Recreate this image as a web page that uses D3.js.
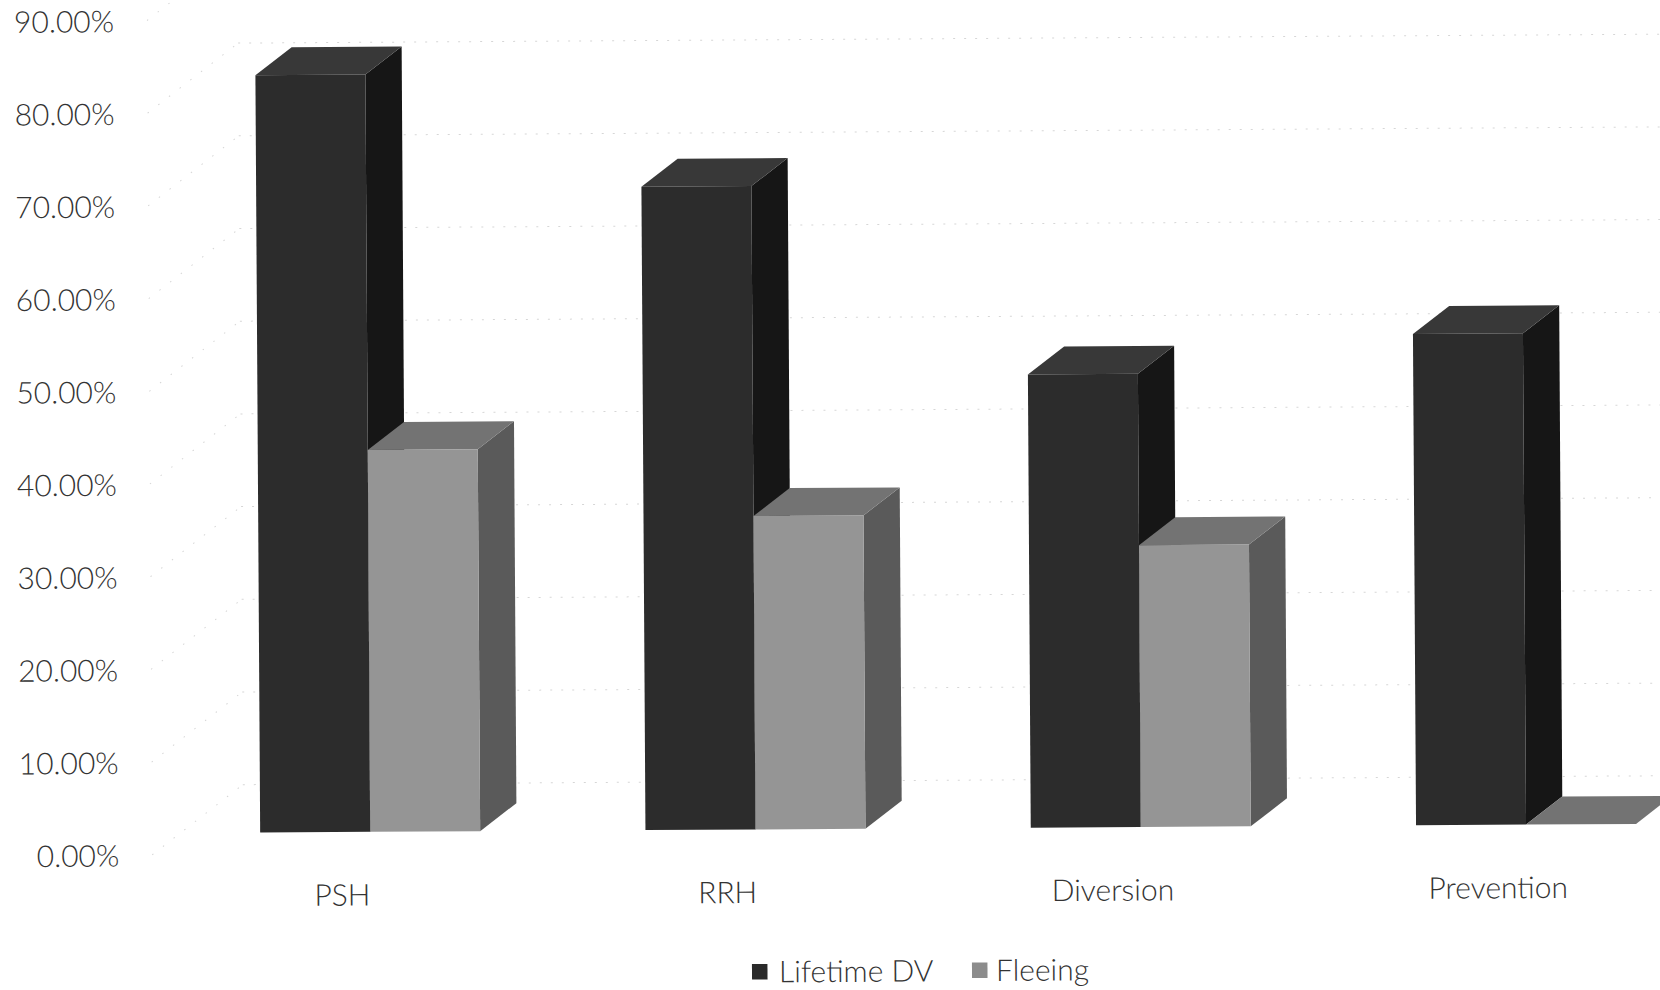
<!DOCTYPE html>
<html>
<head>
<meta charset="utf-8">
<script src="https://cdn.jsdelivr.net/npm/d3@7"></script>
<style>
  html, body { margin: 0; padding: 0; background: #ffffff; }
  svg { display: block; }
  text { font-family: Lato, "Open Sans", "DejaVu Sans", sans-serif; font-weight: 300; fill: #333333; }
</style>
</head>
<body>
<script>
// Share of clients by program type
const categories = ["PSH", "RRH", "Diversion", "Prevention"];
const seriesNames = ["Lifetime DV", "Fleeing"];
const lifetimeDV = [0.817, 0.694, 0.489, 0.530];
const fleeing = [0.412, 0.338, 0.304, 0.0];
const yTicks = [0, 0.1, 0.2, 0.3, 0.4, 0.5, 0.6, 0.7, 0.8, 0.9];

const seriesValues = [lifetimeDV, fleeing];
const faceColors = [
  { front: "#2c2c2c", top: "#383838", side: "#161616", key: "#2a2a2a" },
  { front: "#959595", top: "#737373", side: "#5a5a5a", key: "#8c8c8c" }
];

const W = 1660, H = 990;
const FONT = 30;
const svg = d3.select("body").append("svg").attr("width", W).attr("height", H);
const root = svg.append("g").attr("transform", "rotate(-0.36 830 495)");

// Oblique 3D projection: depth t in [0,1] runs from the front plane to the back wall
const DX = 91, DY = -69.5;
const T0 = 0.31, T1 = 0.71;        // front and back of the columns
const yF = d3.scaleLinear().domain([0, 0.9]).range([850.5, 16.2]);
const proj = (x, v, t) => [x + t * DX, yF(v) + t * DY];

const x0 = d3.scaleBand().domain(categories).range([147.2, 1688.4])
  .paddingInner(0.429).paddingOuter(0.2145);
const x1 = d3.scaleBand().domain(seriesNames).range([0, x0.bandwidth()]);

const wallLeft = 150;

// faint gridlines on the back wall and the left side wall
const grid = root.append("g").attr("fill", "none").attr("stroke", "#d6d6d6")
  .attr("stroke-width", 1).attr("stroke-dasharray", "2 9");
yTicks.forEach(v => {
  const b = proj(wallLeft, v, 1);
  grid.append("line").attr("x1", b[0]).attr("y1", b[1]).attr("x2", W + 60).attr("y2", b[1]);
  const f = proj(wallLeft, v, 0);
  grid.append("line").attr("x1", f[0]).attr("y1", f[1]).attr("x2", b[0]).attr("y2", b[1])
    .attr("stroke-dasharray", "1.5 12");
});

// value axis labels
root.append("g").selectAll("text").data(yTicks).join("text")
  .attr("x", 117).attr("y", d => yF(d) + 1).attr("dy", "0.35em")
  .attr("text-anchor", "end").attr("font-size", FONT)
  .text(d3.format(".2%"));

// columns
const poly = pts => pts.map(p => p.join(",")).join(" ");
const bars = root.append("g");
categories.forEach((cat, i) => {
  seriesNames.forEach((s, j) => {
    const v = seriesValues[j][i];
    const x = x0(cat) + x1(s);
    const w = x1.bandwidth();
    const c = faceColors[j];
    const g = bars.append("g");
    g.append("polygon").attr("fill", c.side)
      .attr("points", poly([proj(x + w, 0, T0), proj(x + w, v, T0), proj(x + w, v, T1), proj(x + w, 0, T1)]));
    g.append("polygon").attr("fill", c.top)
      .attr("points", poly([proj(x, v, T0), proj(x + w, v, T0), proj(x + w, v, T1), proj(x, v, T1)]));
    g.append("polygon").attr("fill", c.front)
      .attr("points", poly([proj(x, 0, T0), proj(x, v, T0), proj(x + w, v, T0), proj(x + w, 0, T0)]));
  });
});

// category labels
root.append("g").selectAll("text").data(categories).join("text")
  .attr("x", d => x0(d) + x0.bandwidth() / 2)
  .attr("y", 892).attr("dy", "0.35em")
  .attr("text-anchor", "middle").attr("font-size", FONT)
  .text(d => d);

// legend
const legendItems = [
  { name: seriesNames[0], sx: 749, tx: 776 },
  { name: seriesNames[1], sx: 969, tx: 993 }
];
const legend = root.append("g");
legendItems.forEach((d, j) => {
  legend.append("rect").attr("x", d.sx).attr("y", 963.5).attr("width", 15.5).attr("height", 15.5)
    .attr("fill", faceColors[j].key);
  legend.append("text").attr("x", d.tx).attr("y", 971.5).attr("dy", "0.35em")
    .attr("font-size", FONT).text(d.name);
});
</script>
</body>
</html>
